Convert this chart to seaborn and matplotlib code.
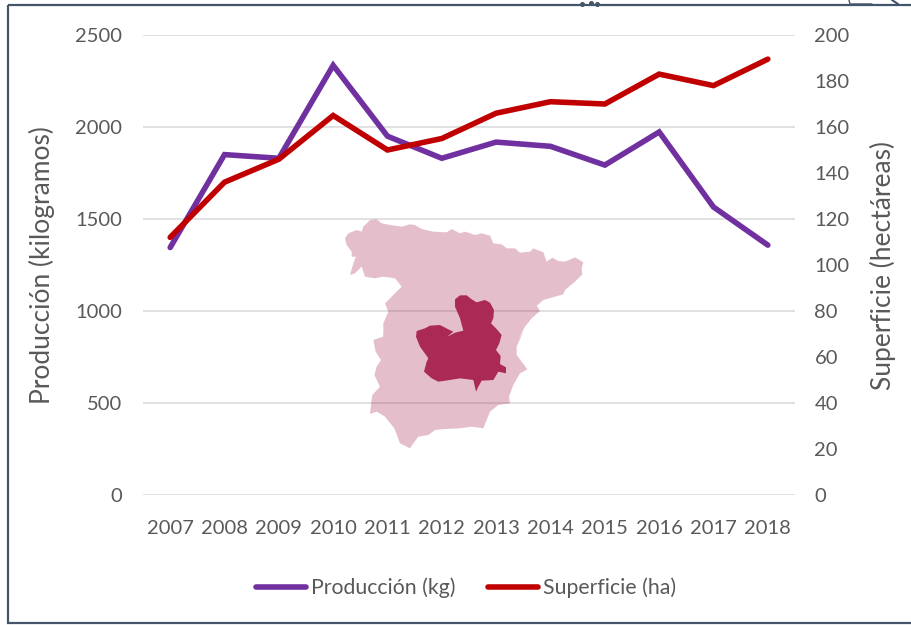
import matplotlib
matplotlib.use("Agg")
import matplotlib.pyplot as plt
import pandas as pd
import seaborn as sns
from matplotlib.patches import Polygon, Rectangle

# Values
years = [2007, 2008, 2009, 2010, 2011, 2012, 2013, 2014, 2015, 2016, 2017, 2018]
produccion = [1345, 1850, 1830, 2335, 1950, 1830, 1918, 1895, 1793, 1973, 1565, 1358]
superficie = [112, 136, 146, 165, 150, 155, 166, 171, 170, 183, 178, 189.5]
left_ticks = [0, 500, 1000, 1500, 2000, 2500]
right_ticks = [0, 20, 40, 60, 80, 100, 120, 140, 160, 180, 200]

spain_north = [(15,70),(25,55),(50,45),(65,50),(70,35),(90,15),(110,13),(125,25),(150,30),(185,35),(210,28),
               (225,30),(245,42),(280,50),(320,52),(335,42),(360,55),(375,50)]
spain_east = [(0,50),(30,60),(50,55),(75,62),(85,85),(110,88),(125,100),(150,100),(165,113),(195,110),(205,100),
              (235,112),(245,140),(262,128),(280,138),(300,140),(330,127),(355,142),(350,160),(352,178),(330,200),
              (300,225),(295,238),(260,248),(235,255),(215,272),(225,288),(200,310),(180,335),(160,375)]
spain_south = [(475,5),(455,50),(455,75),(487,118),(465,130),(445,165),(432,200),(435,220),(400,225),(375,245),
               (355,295),(320,290),(285,295),(240,297),(210,300),(190,315),(160,320),(145,340),(135,355),(105,340),
               (88,295),(60,260),(35,245),(15,252),(18,225),(22,195),(45,170),(28,135),(35,110),(48,90),(32,65),
               (25,30),(55,20),(60,0)]
spain_west = [(130,370),(130,325),(145,290),(135,265),(160,240),(185,215),(165,190),(130,185),(105,190),(75,185),
              (65,155),(45,175),(30,180),(40,145),(48,125),(35,125),(35,110),(20,90)]
clm_outline = [(135,28),(150,16),(170,16),(185,28),(200,37),(225,30),(240,38),(252,60),(250,85),(243,100),(258,115),
               (275,135),(268,160),(258,180),(272,198),(270,222),(288,232),(288,250),(265,245),(255,262),(250,270),
               (215,272),(205,290),(198,305),(190,270),(150,265),(120,270),(85,275),(65,265),(42,245),(50,215),
               (55,205),(48,195),(30,170),(18,140),(20,123),(45,115),(60,107),(90,105),(115,118),(130,125),(112,140),
               (135,128),(160,122),(150,85),(135,50)]

PURPLE = "#7030A0"
RED = "#C00000"
GREY = "#595959"
BORDER = "#44546A"
MAP = "#AB2A55"


def to_px(points, x0, y0):
    return [(x / 3 + x0, y / 3 + y0) for x, y in points]


sns.set_theme(style="white")
plt.rcParams["font.family"] = "Lato"

data = pd.DataFrame({"year": years, "produccion": produccion, "superficie": superficie})

fig = plt.figure(figsize=(9.12, 6.25), dpi=100)
ax = fig.add_axes([143 / 912, 130 / 625, 652 / 912, 460 / 625])
ax2 = ax.twinx()

sns.lineplot(data=data, x="year", y="produccion", ax=ax, color=PURPLE, linewidth=4,
             solid_capstyle="round", solid_joinstyle="miter", label="Producción (kg)", legend=False)
sns.lineplot(data=data, x="year", y="superficie", ax=ax2, color=RED, linewidth=4,
             solid_capstyle="round", solid_joinstyle="miter", label="Superficie (ha)", legend=False)

ax.set_xlim(2006.5, 2018.5)
ax.set_ylim(0, 2500)
ax2.set_ylim(0, 200)
ax.set_xticks(years)
ax.set_xticklabels(years)
ax.set_yticks(left_ticks)
ax2.set_yticks(right_ticks)

ax.grid(axis="y", color="#D9D9D9", linewidth=1.1)
ax.set_axisbelow(True)
ax2.grid(False)
for a in (ax, ax2):
    for s in a.spines.values():
        s.set_visible(False)

ax.tick_params(axis="y", length=0, pad=15, labelsize=14.5, labelcolor=GREY)
ax.tick_params(axis="x", length=0, pad=18, labelsize=14.5, labelcolor=GREY)
ax2.tick_params(axis="y", length=0, pad=14, labelsize=14.5, labelcolor=GREY)

ax.set_xlabel("")
ax.set_ylabel("Producción (kilogramos)", fontsize=19, color=GREY)
ax.yaxis.set_label_coords(-88 / 652, 0.5)
ax2.set_ylabel("Superficie (hectáreas)", fontsize=19, color=GREY)
ax2.yaxis.set_label_coords(727 / 652, 0.5)

handles = ax.get_lines()[:1] + ax2.get_lines()[:1]
fig.legend(handles, [h.get_label() for h in handles], loc="center", bbox_to_anchor=(466 / 912, 1 - 588 / 625),
           ncol=2, frameon=False, fontsize=15.3, labelcolor=GREY, handlelength=2.35, handletextpad=0.25,
           columnspacing=1.5)

# Map and frame sit on a pixel-sized overlay
over = fig.add_axes([0, 0, 1, 1], facecolor="none", zorder=5)
over.set_xlim(0, 912)
over.set_ylim(625, 0)
over.axis("off")
spain = (to_px(spain_north, 340, 215) + to_px(spain_east, 465, 215)
         + to_px(spain_south, 365, 330) + to_px(spain_west, 340, 215))
over.add_patch(Polygon(spain, closed=True, facecolor=MAP, alpha=0.3, edgecolor="none"))
over.add_patch(Polygon(to_px(clm_outline, 410, 290), closed=True, facecolor=MAP, edgecolor="none"))
over.add_patch(Rectangle((8, 5), 960, 618, fill=False, edgecolor=BORDER, linewidth=1.6))

# Scraps of the picture above the frame
over.plot([582.5, 591.5, 597], [3.5, 3, 3.5], ls="none", marker="o", ms=2.6, color=BORDER, clip_on=False)
over.plot([849, 850, 872], [0, 4, 4], color=BORDER, lw=1)
over.plot([892, 898], [0, 4], color=BORDER, lw=1.5)

fig.savefig("out.png", dpi=100)
